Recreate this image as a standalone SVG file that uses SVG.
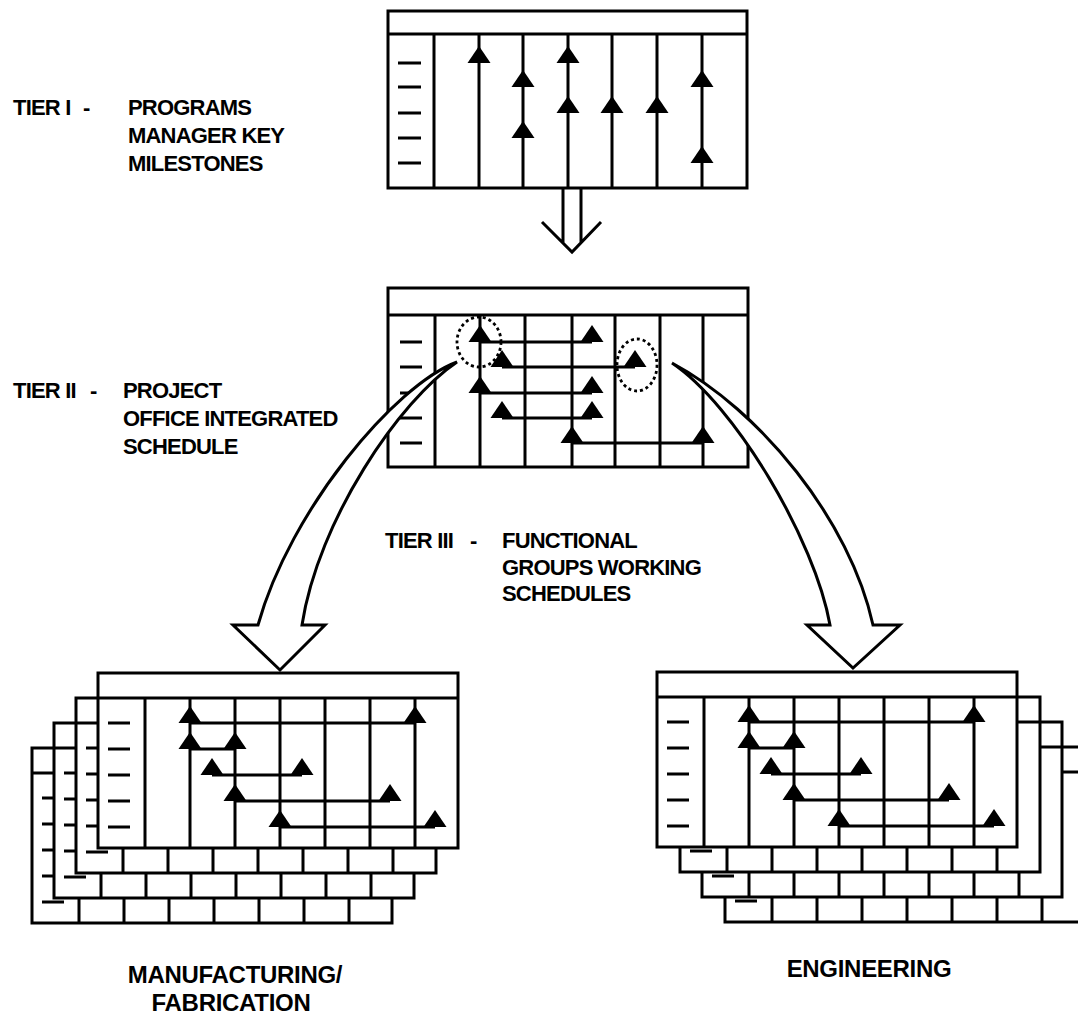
<svg xmlns="http://www.w3.org/2000/svg" width="1078" height="1017" viewBox="0 0 1078 1017">
<style>
.ln{stroke:#000;stroke-width:3;fill:none}
.box{fill:#fff;stroke:#000;stroke-width:3}
.arr{fill:#fff;stroke:#000;stroke-width:3;stroke-linejoin:miter}
.tri{fill:#000}
.dot{fill:none;stroke:#000;stroke-width:2.8;stroke-dasharray:3 3}
.txt{font-family:"Liberation Sans",Arial,sans-serif;font-size:22px;font-weight:bold;fill:#000;letter-spacing:-0.8px}
.big{font-size:24px;letter-spacing:-0.3px}
</style>
<defs>
<path id="tri" class="tri" d="M0,-17 L11.5,0 L-11.5,0 Z"/>
<g id="sheet">
<rect x="0" y="0" width="360" height="175" class="box"/>
<path class="ln" d="M0,25 H360 M47,25 V175 M92,25 V175 M137,25 V175 M182,25 V175 M227,25 V175 M272,25 V175 M317,25 V175 M10,50 H32 M10,76 H32 M10,102 H32 M10,128 H32 M10,154 H32"/>
</g>
<g id="marks">
<path class="ln" d="M92,50 H317 M92,76 H137 M114,102 H204 M137,128 H292 M182,154 H337"/>
<use href="#tri" x="92" y="50"/><use href="#tri" x="317" y="50"/>
<use href="#tri" x="92" y="76"/><use href="#tri" x="137" y="76"/>
<use href="#tri" x="114" y="102"/><use href="#tri" x="204" y="102"/>
<use href="#tri" x="137" y="128"/><use href="#tri" x="292" y="128"/>
<use href="#tri" x="182" y="154"/><use href="#tri" x="337" y="154"/>
</g>
</defs>
<rect width="1078" height="1017" fill="#fff"/>

<g id="tier1">
<rect x="388" y="11" width="359" height="177" class="box"/>
<path class="ln" d="M388,34 H747 M434,34 V188 M479,34 V188 M523,34 V188 M568,34 V188 M612,34 V188 M657,34 V188 M702,34 V188 M398,63 H421 M398,87 H421 M398,113 H421 M398,138 H421 M398,163 H421"/>
<use href="#tri" x="479" y="63"/>
<use href="#tri" x="523" y="87"/><use href="#tri" x="523" y="138"/>
<use href="#tri" x="568" y="63"/><use href="#tri" x="568" y="113"/>
<use href="#tri" x="612" y="113"/>
<use href="#tri" x="657" y="113"/>
<use href="#tri" x="702" y="87"/><use href="#tri" x="702" y="163"/>
</g>

<g id="tier2">
<rect x="388" y="288" width="360" height="179" class="box"/>
<path class="ln" d="M388,315 H748 M435,315 V467 M480,315 V467 M525,315 V467 M572,315 V467 M615,315 V467 M660,315 V467 M703,315 V467 M400,342 H422 M400,367 H422 M400,393 H422 M400,418 H422 M400,443 H422"/>
<path class="ln" d="M480,342 H592 M502,367 H635 M480,393 H592 M502,418 H592 M572,443 H703"/>
<use href="#tri" x="480" y="342"/><use href="#tri" x="592" y="342"/>
<use href="#tri" x="502" y="367"/><use href="#tri" x="635" y="367"/>
<use href="#tri" x="480" y="393"/><use href="#tri" x="592" y="393"/>
<use href="#tri" x="502" y="418"/><use href="#tri" x="592" y="418"/>
<use href="#tri" x="572" y="443"/><use href="#tri" x="703" y="443"/>
<ellipse cx="479" cy="342" rx="22" ry="25" class="dot"/>
<ellipse cx="637" cy="365" rx="20" ry="26" class="dot"/>
</g>

<g id="connectors">
<path id="arrow-down" class="ln" d="M563,189 V243 M581,189 V242 M542,222 L572,252 L601,222"/>
<path id="arrow-left" class="arr" d="M457,362 C395,385 290,510 258,625 L233,625 L280,670 L325,625 L302,625 C318,520 400,400 457,362 Z"/>
<path id="arrow-right" class="arr" d="M672,363 C760,410 850,520 873,625 L900,625 L853,668 L807,625 L830,625 C815,540 735,405 672,363 Z"/>
</g>

<g id="stack-manufacturing">
<use href="#sheet" x="32" y="748"/>
<use href="#sheet" x="54" y="723"/>
<use href="#sheet" x="76" y="698"/>
<use href="#sheet" x="98" y="673"/>
<use href="#marks" x="98" y="673"/>
</g>

<g id="stack-engineering">
<use href="#sheet" x="725" y="747"/>
<use href="#sheet" x="702" y="722"/>
<use href="#sheet" x="680" y="697"/>
<use href="#sheet" x="657" y="672"/>
<use href="#marks" x="657" y="672"/>
</g>

<g id="labels" class="txt">
<text y="115"><tspan x="13">TIER I</tspan><tspan x="83">-</tspan></text>
<text x="128" y="115">PROGRAMS</text>
<text x="128" y="143">MANAGER KEY</text>
<text x="128" y="171">MILESTONES</text>
<text y="398"><tspan x="13">TIER II</tspan><tspan x="90">-</tspan></text>
<text x="123" y="398">PROJECT</text>
<text x="123" y="426">OFFICE INTEGRATED</text>
<text x="123" y="454">SCHEDULE</text>
<text y="548"><tspan x="385">TIER III</tspan><tspan x="470">-</tspan></text>
<text x="502" y="548">FUNCTIONAL</text>
<text x="502" y="575">GROUPS WORKING</text>
<text x="502" y="601">SCHEDULES</text>
<text class="big" x="235" y="983" text-anchor="middle">MANUFACTURING/</text>
<text class="big" x="231" y="1011" text-anchor="middle">FABRICATION</text>
<text class="big" x="869" y="977" text-anchor="middle">ENGINEERING</text>
</g>
</svg>
